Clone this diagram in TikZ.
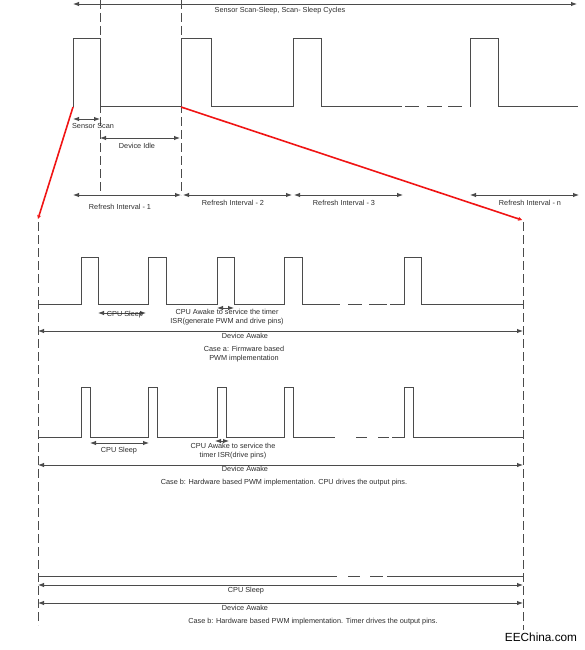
\documentclass[tikz,border=0pt]{standalone}
\usepackage{fontspec}
\setmainfont{Liberation Sans}
\usetikzlibrary{arrows.meta}
\definecolor{ln}{RGB}{75,75,75}
\definecolor{tx}{RGB}{45,45,45}
\definecolor{redln}{RGB}{240,20,20}
\begin{document}
\begin{tikzpicture}[x=1pt,y=-1pt,
  wave/.style={draw=ln,line width=1pt},
  vdash/.style={draw=ln,line width=1pt,dash pattern=on 9pt off 4pt},
  dim/.style={draw=ln,line width=0.9pt,{Latex[length=6pt,width=4.5pt]}-{Latex[length=6pt,width=4.5pt]}},
  zoomln/.style={draw=redln,line width=1.6pt,-{Stealth[length=4pt,width=4pt]}},
  lbl/.style={font=\fontsize{7.3}{8.8}\selectfont,text=tx,inner sep=0pt,align=center},
  wmark/.style={font=\fontsize{11.8}{13}\selectfont,text=black,inner sep=0pt}]
\useasboundingbox (0,0) rectangle (584,650);

% ---------- top section ----------
\coordinate (topL) at (73,4);
\coordinate (topR) at (577,4);
\draw[dim] (topL) -- (topR);
\node[lbl] (title) at (280,10.5) {Sensor Scan-Sleep, Scan- Sleep Cycles};

\coordinate (d1t) at (100,0); \coordinate (d1b) at (100,192);
\coordinate (d2t) at (181,0); \coordinate (d2b) at (181,195);
\draw[vdash] (d1t) -- (d1b);
\draw[vdash] (d2t) -- (d2b);

\draw[wave] (73,107) -- (73,39) -- (100,39) -- (100,107) -- (181,107) -- (181,39)
  -- (211,39) -- (211,107) -- (293,107) -- (293,39) -- (321,39) -- (321,107) -- (402,107);
\draw[wave] (405,107) -- (419,107) (427,107) -- (442,107) (448,107) -- (462,107);
\draw[wave] (470,107) -- (470,39) -- (498,39) -- (498,107) -- (578,107);

\coordinate (ss1) at (73,119); \coordinate (ss2) at (100,119);
\draw[dim] (ss1) -- (ss2);
\node[lbl] (sslbl) at (93,126) {Sensor Scan};
\coordinate (di1) at (100,138); \coordinate (di2) at (180,138);
\draw[dim] (di1) -- (di2);
\node[lbl] (dilbl) at (137,146) {Device Idle};

\coordinate (r1a) at (73,195);  \coordinate (r1b) at (181,195);
\coordinate (r2a) at (183,195); \coordinate (r2b) at (292,195);
\coordinate (r3a) at (294,195); \coordinate (r3b) at (403,195);
\coordinate (rna) at (470,195); \coordinate (rnb) at (579,195);
\draw[dim] (r1a) -- (r1b);
\draw[dim] (r2a) -- (r2b);
\draw[dim] (r3a) -- (r3b);
\draw[dim] (rna) -- (rnb);
\node[lbl] (ri1) at (120,207) {Refresh Interval - 1};
\node[lbl] (ri2) at (233,203) {Refresh Interval - 2};
\node[lbl] (ri3) at (344,203) {Refresh Interval - 3};
\node[lbl] (rin) at (530,203) {Refresh Interval - n};

% ---------- zoom lines ----------
\coordinate (zA) at (73,107);  \coordinate (zAe) at (38,219);
\coordinate (zB) at (181,107); \coordinate (zBe) at (522,220);
\draw[zoomln] (zA) -- (zAe);
\draw[zoomln] (zB) -- (zBe);

% ---------- bottom dashed bounds ----------
\coordinate (bLt) at (38,222);  \coordinate (bLb) at (38,625);
\coordinate (bRt) at (523,222); \coordinate (bRb) at (523,630);
\draw[vdash] (bLt) -- (bLb);
\draw[vdash] (bRt) -- (bRb);

% ---------- case a ----------
\draw[wave] (38,304) -- (81,304) -- (81,257) -- (98,257) -- (98,304) -- (148,304) -- (148,257)
  -- (166,257) -- (166,304) -- (217,304) -- (217,257) -- (234,257) -- (234,304) -- (284,304)
  -- (284,257) -- (302,257) -- (302,304) -- (340,304);
\draw[wave] (348,304) -- (362,304) (369,304) -- (387,304);
\draw[wave] (390,304) -- (404,304) -- (404,257) -- (421,257) -- (421,304) -- (523,304);

\coordinate (as1) at (98,313); \coordinate (as2) at (146,313);
\draw[dim] (as1) -- (as2);
\node[lbl] (aslbl) at (125,315) {CPU Sleep};
\coordinate (aw1) at (217,308); \coordinate (aw2) at (234,308);
\draw[dim] (aw1) -- (aw2);
\node[lbl] (awlbl) at (227,317) {CPU Awake to service the timer\\ISR(generate PWM and drive pins)};
\coordinate (ad1) at (38,331); \coordinate (ad2) at (523,331);
\draw[dim] (ad1) -- (ad2);
\node[lbl] (adlbl) at (245,336) {Device Awake};
\node[lbl] (calbl) at (244,354) {Case a: Firmware based\\PWM implementation};

% ---------- case b ----------
\draw[wave] (38,437) -- (81,437) -- (81,387) -- (90,387) -- (90,437) -- (148,437) -- (148,387)
  -- (157,387) -- (157,437) -- (217,437) -- (217,387) -- (226,387) -- (226,437) -- (284,437)
  -- (284,387) -- (293,387) -- (293,437) -- (335,437);
\draw[wave] (356,437) -- (367,437) (378,437) -- (389,437);
\draw[wave] (392,437) -- (404,437) -- (404,387) -- (413,387) -- (413,437) -- (523,437);

\coordinate (bs1) at (90,443); \coordinate (bs2) at (149,443);
\draw[dim] (bs1) -- (bs2);
\node[lbl] (bslbl) at (119,451) {CPU Sleep};
\coordinate (bw1) at (215,441); \coordinate (bw2) at (229,441);
\draw[dim] (bw1) -- (bw2);
\node[lbl] (bwlbl) at (233,451) {CPU Awake to service the\\timer ISR(drive pins)};
\coordinate (bd1) at (38,465); \coordinate (bd2) at (523,465);
\draw[dim] (bd1) -- (bd2);
\node[lbl] (bdlbl) at (245,469) {Device Awake};
\node[lbl] (cblbl) at (284,483) {Case b: Hardware based PWM implementation. CPU drives the output pins.};

% ---------- case c ----------
\draw[wave] (38,576) -- (337,576) (348,576) -- (360,576) (370,576) -- (383,576) (387,576) -- (523,576);
\coordinate (cs1) at (38,585); \coordinate (cs2) at (523,585);
\draw[dim] (cs1) -- (cs2);
\node[lbl] (cslbl) at (246,591) {CPU Sleep};
\coordinate (cd1) at (38,603); \coordinate (cd2) at (523,603);
\draw[dim] (cd1) -- (cd2);
\node[lbl] (cdlbl) at (245,608) {Device Awake};
\node[lbl] (cclbl) at (313,622) {Case b: Hardware based PWM implementation. Timer drives the output pins.};

\node[wmark] (wm) at (541,637) {EEChina.com};
\end{tikzpicture}
\end{document}
